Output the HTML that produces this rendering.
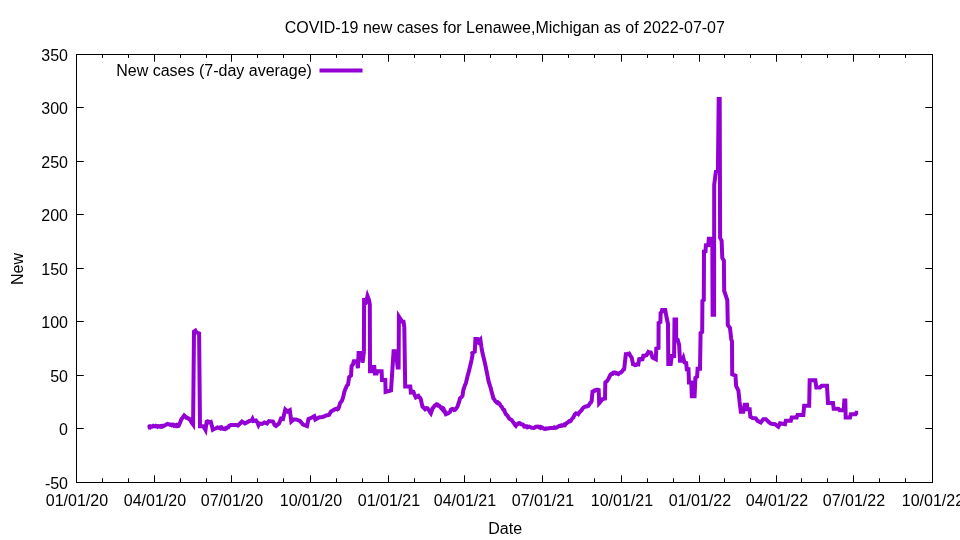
<!DOCTYPE html>
<html><head><meta charset="utf-8"><title>COVID-19 new cases for Lenawee,Michigan</title>
<style>
html,body{margin:0;padding:0;background:#fff;}
svg{display:block;will-change:transform}
text{font-family:"Liberation Sans",Arial,sans-serif;font-size:16px;fill:#000}
</style></head><body>
<svg width="960" height="540" viewBox="0 0 960 540">
<rect width="960" height="540" fill="#fff"/>
<rect x="76.5" y="54.5" width="856.0" height="428.0" fill="none" stroke="#000" stroke-width="1"/>
<path d="M76.5 482.5v-7.25M76.5 54.5v7.25M102.5 482.5v-4.2M102.5 54.5v3.4M128.5 482.5v-4.2M128.5 54.5v3.4M154.5 482.5v-7.25M154.5 54.5v7.25M180.5 482.5v-4.2M180.5 54.5v3.4M206.5 482.5v-4.2M206.5 54.5v3.4M231.5 482.5v-7.25M231.5 54.5v7.25M257.5 482.5v-4.2M257.5 54.5v3.4M283.5 482.5v-4.2M283.5 54.5v3.4M310.5 482.5v-7.25M310.5 54.5v7.25M336.5 482.5v-4.2M336.5 54.5v3.4M362.5 482.5v-4.2M362.5 54.5v3.4M388.5 482.5v-7.25M388.5 54.5v7.25M414.5 482.5v-4.2M414.5 54.5v3.4M440.5 482.5v-4.2M440.5 54.5v3.4M464.5 482.5v-7.25M464.5 54.5v7.25M490.5 482.5v-4.2M490.5 54.5v3.4M516.5 482.5v-4.2M516.5 54.5v3.4M542.5 482.5v-7.25M542.5 54.5v7.25M568.5 482.5v-4.2M568.5 54.5v3.4M594.5 482.5v-4.2M594.5 54.5v3.4M621.5 482.5v-7.25M621.5 54.5v7.25M647.5 482.5v-4.2M647.5 54.5v3.4M673.5 482.5v-4.2M673.5 54.5v3.4M699.5 482.5v-7.25M699.5 54.5v7.25M724.5 482.5v-4.2M724.5 54.5v3.4M750.5 482.5v-4.2M750.5 54.5v3.4M776.5 482.5v-7.25M776.5 54.5v7.25M801.5 482.5v-4.2M801.5 54.5v3.4M827.5 482.5v-4.2M827.5 54.5v3.4M853.5 482.5v-7.25M853.5 54.5v7.25M879.5 482.5v-4.2M879.5 54.5v3.4M905.5 482.5v-4.2M905.5 54.5v3.4M932.5 482.5v-7.25M932.5 54.5v7.25M76.5 482.5h7.25M932.5 482.5h-7.25M76.5 428.5h7.25M932.5 428.5h-7.25M76.5 375.5h7.25M932.5 375.5h-7.25M76.5 321.5h7.25M932.5 321.5h-7.25M76.5 268.5h7.25M932.5 268.5h-7.25M76.5 214.5h7.25M932.5 214.5h-7.25M76.5 161.5h7.25M932.5 161.5h-7.25M76.5 107.5h7.25M932.5 107.5h-7.25M76.5 54.5h7.25M932.5 54.5h-7.25" stroke="#000" stroke-width="1" fill="none"/>
<text x="68" y="489.0" text-anchor="end">-50</text>
<text x="68" y="435.0" text-anchor="end">0</text>
<text x="68" y="382.0" text-anchor="end">50</text>
<text x="68" y="328.0" text-anchor="end">100</text>
<text x="68" y="275.0" text-anchor="end">150</text>
<text x="68" y="221.0" text-anchor="end">200</text>
<text x="68" y="168.0" text-anchor="end">250</text>
<text x="68" y="114.0" text-anchor="end">300</text>
<text x="68" y="61.0" text-anchor="end">350</text>
<text x="76.9" y="506.2" text-anchor="middle">01/01/20</text>
<text x="154.9" y="506.2" text-anchor="middle">04/01/20</text>
<text x="231.9" y="506.2" text-anchor="middle">07/01/20</text>
<text x="310.9" y="506.2" text-anchor="middle">10/01/20</text>
<text x="388.9" y="506.2" text-anchor="middle">01/01/21</text>
<text x="464.9" y="506.2" text-anchor="middle">04/01/21</text>
<text x="542.9" y="506.2" text-anchor="middle">07/01/21</text>
<text x="621.9" y="506.2" text-anchor="middle">10/01/21</text>
<text x="699.9" y="506.2" text-anchor="middle">01/01/22</text>
<text x="776.9" y="506.2" text-anchor="middle">04/01/22</text>
<text x="853.9" y="506.2" text-anchor="middle">07/01/22</text>
<text x="932.9" y="506.2" text-anchor="middle">10/01/22</text>
<text x="504.8" y="32.6" text-anchor="middle">COVID-19 new cases for Lenawee,Michigan as of 2022-07-07</text>
<text x="505.2" y="533.6" text-anchor="middle">Date</text>
<text transform="translate(22.6,269) rotate(-90)" text-anchor="middle">New</text>
<text x="311.9" y="75.7" text-anchor="end">New cases (7-day average)</text>
<path d="M319.5 70.4H362.5" stroke="#9400d3" stroke-width="4" fill="none"/>
<path d="M147.67 427.67 L148.48 427.49 L149.29 426.68 L150.10 427.25 L150.90 426.40 L151.71 426.74 L152.52 426.57 L153.33 425.83 L154.17 426.17 L155.00 426.33 L155.83 425.80 L156.67 426.33 L157.50 426.83 L158.33 426.11 L159.17 426.12 L160.00 426.66 L160.83 426.18 L161.67 426.67 L162.50 425.89 L163.33 426.25 L164.17 425.54 L165.00 425.40 L165.83 424.75 L166.67 424.17 L167.50 423.86 L168.33 424.26 L169.17 424.25 L170.00 424.86 L170.83 424.67 L171.67 425.21 L172.50 424.55 L173.33 424.69 L174.17 425.73 L175.00 425.33 L175.92 425.98 L176.83 425.09 L177.75 426.06 L178.67 425.83 L179.42 424.00 L180.17 422.56 L180.92 420.33 L181.67 418.67 L182.50 417.96 L183.33 416.66 L184.17 415.50 L185.00 416.30 L185.83 416.76 L186.67 417.84 L187.50 418.00 L188.33 418.30 L189.17 419.20 L190.00 419.17 L191.00 421.44 L192.00 423.00 L193.10 424.50 L194.00 331.50 L195.40 330.60 L196.50 332.50 L199.10 333.50 L200.00 426.30 L203.00 426.33 L203.83 427.30 L204.67 428.57 L205.50 430.00 L206.67 421.67 L207.50 421.36 L208.33 421.60 L209.17 422.41 L210.00 422.25 L210.83 422.00 L211.83 425.72 L212.83 429.67 L213.79 429.13 L214.75 428.63 L215.71 428.39 L216.67 428.00 L217.50 427.50 L218.33 427.74 L219.17 428.05 L220.00 427.50 L220.83 428.29 L221.67 427.61 L222.50 428.63 L223.33 428.82 L224.17 429.02 L225.00 429.17 L225.83 428.06 L226.67 428.32 L227.50 427.45 L228.33 427.28 L229.17 425.77 L230.00 425.66 L230.83 425.00 L236.00 425.00 L238.00 425.50 L242.00 421.50 L245.00 423.50 L249.00 421.20 L251.65 420.50 L252.50 418.90 L253.35 421.00 L256.00 420.50 L257.65 423.00 L258.50 425.10 L259.35 423.50 L262.00 424.00 L264.50 422.50 L267.00 423.50 L269.00 421.00 L273.00 421.50 L274.50 425.00 L276.00 426.00 L279.00 423.50 L281.00 418.50 L283.00 419.00 L285.30 409.50 L287.50 411.50 L289.80 410.20 L291.30 421.50 L293.50 419.50 L296.00 419.50 L300.00 421.00 L303.00 424.50 L307.00 426.00 L308.50 419.00 L312.00 417.50 L314.30 416.20 L315.30 419.60 L319.00 417.50 L322.00 417.00 L324.00 416.50 L326.00 415.50 L329.00 415.00 L331.00 411.50 L335.00 409.17 L335.83 409.04 L336.67 408.72 L337.50 409.24 L338.33 408.67 L339.17 406.52 L340.00 403.33 L340.83 402.11 L341.67 401.10 L342.50 399.17 L343.33 396.61 L344.17 392.60 L345.00 390.00 L345.83 388.13 L346.67 386.00 L348.00 384.50 L349.20 377.00 L351.00 375.50 L351.60 366.00 L353.00 364.30 L353.80 361.30 L357.00 361.30 L357.90 368.20 L358.60 353.00 L361.80 353.00 L362.50 362.70 L363.90 352.00 L364.10 300.10 L365.00 300.10 L365.50 303.30 L366.00 302.80 L367.50 296.10 L369.00 300.10 L369.80 304.50 L370.00 371.30 L371.20 371.30 L372.30 367.00 L374.30 367.00 L374.90 373.60 L376.60 373.60 L377.20 371.20 L381.60 371.20 L382.00 380.00 L385.30 380.00 L385.60 392.00 L391.00 390.50 L392.50 368.00 L393.60 351.20 L395.80 351.20 L397.70 367.50 L398.60 367.50 L398.90 316.60 L402.00 321.40 L403.50 321.60 L404.30 327.00 L405.20 386.50 L410.30 386.50 L410.83 392.50 L411.67 392.37 L412.50 391.49 L413.33 391.67 L414.17 393.81 L415.00 395.79 L415.83 397.50 L416.67 397.02 L417.50 396.19 L418.33 395.83 L419.17 397.32 L420.00 397.79 L420.83 399.17 L421.67 403.23 L422.50 406.67 L423.33 407.16 L424.17 408.28 L425.00 409.17 L425.83 408.49 L426.67 408.18 L427.50 408.33 L428.33 409.73 L429.17 410.45 L430.00 412.22 L430.83 413.33 L431.67 411.03 L432.50 408.33 L433.33 407.57 L434.17 406.40 L435.00 405.31 L435.83 405.10 L436.67 404.17 L437.50 404.41 L438.33 405.81 L439.17 405.79 L440.00 406.67 L440.83 407.39 L441.67 407.44 L442.50 407.74 L443.33 408.33 L444.17 410.08 L445.00 411.63 L445.83 413.33 L440.00 406.67 L440.83 407.39 L441.67 407.44 L442.50 407.74 L443.33 408.33 L444.17 410.36 L445.00 412.18 L445.83 414.17 L446.67 413.82 L447.50 413.64 L448.33 413.30 L449.17 412.50 L450.00 411.87 L450.83 409.77 L451.67 409.17 L452.50 408.97 L453.33 409.10 L454.17 410.14 L455.00 410.00 L455.83 409.09 L456.67 407.77 L457.50 406.67 L458.33 403.98 L459.17 401.62 L460.00 398.33 L460.83 397.54 L461.67 397.03 L462.50 395.83 L463.33 390.00 L464.17 387.73 L465.00 385.02 L465.83 383.33 L466.67 379.88 L467.50 376.26 L468.33 373.33 L469.17 370.34 L470.00 366.64 L470.83 363.33 L471.67 359.41 L472.50 355.00 L472.30 353.00 L474.80 351.50 L475.40 339.00 L477.70 339.00 L478.70 341.80 L480.40 339.80 L481.40 347.00 L482.50 353.00 L485.00 363.33 L485.83 367.47 L486.67 371.67 L487.67 376.66 L488.67 381.67 L489.39 383.87 L490.11 386.21 L490.83 388.33 L491.67 392.09 L492.50 394.79 L493.33 398.33 L494.17 399.26 L495.00 400.68 L495.83 401.67 L496.67 402.45 L497.50 402.16 L498.33 403.35 L499.17 403.33 L500.00 404.46 L500.83 406.08 L501.67 406.83 L502.50 408.33 L503.33 409.59 L504.17 410.00 L505.00 412.30 L505.83 414.17 L506.67 414.72 L507.50 415.76 L508.33 417.09 L509.17 418.33 L510.00 419.07 L510.83 419.60 L511.67 420.00 L512.50 421.05 L513.33 422.43 L514.17 423.33 L515.00 425.00 L515.83 425.83 L516.67 424.48 L517.50 424.27 L518.33 423.33 L519.17 423.09 L520.00 423.31 L520.83 424.19 L521.67 424.17 L522.50 424.29 L523.33 425.09 L524.17 426.56 L525.00 426.67 L525.83 426.32 L526.67 426.29 L527.50 427.32 L528.33 426.97 L529.17 426.66 L530.00 427.00 L530.83 427.37 L531.67 427.71 L532.50 427.66 L533.33 428.00 L534.17 427.83 L535.00 427.26 L535.83 426.75 L536.67 426.67 L537.50 426.49 L538.33 426.69 L539.17 427.43 L540.00 427.00 L540.83 427.84 L541.67 427.29 L542.50 427.74 L543.33 428.33 L544.17 428.72 L545.00 428.85 L545.83 428.43 L546.67 428.67 L547.50 428.53 L548.33 428.25 L549.17 428.28 L550.00 428.00 L550.83 428.09 L551.67 428.00 L552.50 428.00 L553.33 427.98 L554.17 427.36 L555.00 427.90 L555.83 427.81 L556.67 427.50 L557.50 426.84 L558.33 426.45 L559.17 425.98 L560.00 425.83 L560.83 425.91 L561.67 425.28 L562.50 425.71 L563.33 425.48 L564.17 424.62 L565.00 425.00 L565.83 423.65 L566.67 423.25 L567.50 422.50 L568.33 421.97 L569.17 421.12 L570.00 421.28 L570.83 420.83 L571.67 419.35 L572.50 418.31 L573.33 417.50 L574.17 415.71 L575.00 414.22 L575.83 413.33 L576.67 413.51 L577.50 413.56 L578.33 414.17 L579.17 412.79 L580.00 411.68 L580.83 411.13 L581.67 410.00 L582.50 408.68 L583.33 407.80 L584.17 407.12 L585.00 406.67 L585.83 406.51 L586.67 406.52 L587.50 405.93 L588.33 405.83 L589.17 404.59 L590.00 403.06 L590.83 402.53 L591.67 400.83 L592.50 391.67 L593.33 391.28 L594.17 390.62 L595.00 390.66 L595.83 390.00 L593.00 391.67 L593.92 391.06 L594.83 390.34 L595.75 390.11 L596.67 389.67 L597.67 389.74 L598.67 390.00 L599.17 403.33 L600.00 402.41 L600.83 401.06 L601.67 400.11 L602.50 399.17 L603.33 399.06 L604.17 398.42 L605.00 398.33 L605.33 382.50 L606.08 381.96 L606.83 381.24 L607.58 380.09 L608.33 379.17 L609.17 377.33 L610.00 375.56 L610.83 374.17 L611.67 373.76 L612.50 373.82 L613.33 372.63 L614.17 372.46 L615.00 372.50 L615.83 373.38 L616.67 373.20 L617.50 373.86 L618.33 374.17 L619.17 373.24 L620.00 372.79 L620.83 372.69 L621.67 371.67 L622.50 371.03 L623.33 369.51 L624.17 369.17 L625.00 361.71 L625.83 354.17 L626.67 354.15 L627.50 353.88 L628.33 354.10 L629.17 353.67 L630.00 355.09 L630.83 356.34 L631.67 357.50 L632.33 360.55 L633.00 364.17 L633.94 364.22 L634.89 365.12 L635.83 365.00 L636.67 364.65 L637.50 363.96 L638.33 364.17 L639.17 359.17 L640.00 358.99 L640.83 358.88 L641.67 359.32 L642.50 359.17 L643.33 355.83 L644.17 355.84 L645.00 355.82 L645.83 355.20 L646.67 355.00 L647.50 353.44 L648.33 352.00 L649.17 352.50 L650.00 352.56 L650.83 352.50 L651.67 354.95 L652.50 357.50 L653.33 357.92 L654.17 358.33 L655.00 358.69 L655.83 359.17 L656.30 348.60 L658.50 348.00 L658.60 323.00 L660.40 322.00 L660.60 313.00 L661.80 312.00 L662.20 310.00 L665.20 310.00 L666.70 318.00 L668.00 324.00 L668.30 364.00 L670.70 364.00 L671.80 356.00 L674.10 356.00 L674.50 319.50 L676.10 319.50 L676.20 338.00 L677.60 339.50 L679.10 344.60 L680.00 360.70 L682.00 360.70 L683.30 357.80 L684.50 362.50 L686.20 363.00 L686.80 369.30 L688.50 369.30 L689.00 382.50 L691.30 382.50 L691.80 396.30 L694.60 396.30 L695.40 377.90 L697.10 376.70 L697.60 368.70 L700.00 368.70 L700.60 333.00 L702.20 332.00 L702.40 301.00 L703.80 300.00 L704.00 251.40 L705.50 251.20 L705.90 245.30 L708.30 245.10 L708.80 238.70 L712.30 238.50 L712.60 314.70 L714.10 314.70 L714.20 185.00 L715.90 171.50 L717.90 170.00 L718.70 99.00 L719.70 99.00 L720.10 238.00 L721.60 240.50 L722.30 258.00 L723.90 260.50 L724.20 291.00 L727.30 300.00 L727.80 325.00 L730.00 328.00 L731.20 339.00 L732.00 341.50 L732.20 374.40 L735.50 375.60 L736.10 386.00 L738.40 390.50 L739.60 402.00 L740.83 411.67 L743.33 411.67 L744.67 404.67 L747.00 404.67 L747.50 409.17 L749.67 409.17 L750.33 416.67 L752.50 418.00 L755.83 418.33 L757.50 420.83 L760.83 422.50 L763.33 419.17 L765.83 419.17 L769.17 422.50 L770.83 423.67 L775.00 424.17 L778.33 426.67 L780.00 423.33 L785.00 424.17 L785.83 420.83 L790.83 420.83 L791.67 417.50 L796.67 417.50 L797.50 415.00 L803.33 415.00 L804.17 405.83 L809.17 405.83 L809.67 380.33 L815.33 380.33 L816.33 387.50 L820.00 387.50 L821.67 385.83 L827.00 385.83 L828.00 403.00 L833.00 403.00 L833.67 408.67 L838.33 408.67 L839.67 410.33 L843.67 410.33 L844.33 400.50 L845.33 400.50 L845.67 417.50 L850.00 417.50 L850.83 414.33 L855.50 414.33 L856.33 412.67 L858.17 412.67" stroke="#9400d3" stroke-width="4" fill="none" stroke-linejoin="miter" stroke-miterlimit="3.8" stroke-linecap="butt"/>
</svg>
</body></html>
